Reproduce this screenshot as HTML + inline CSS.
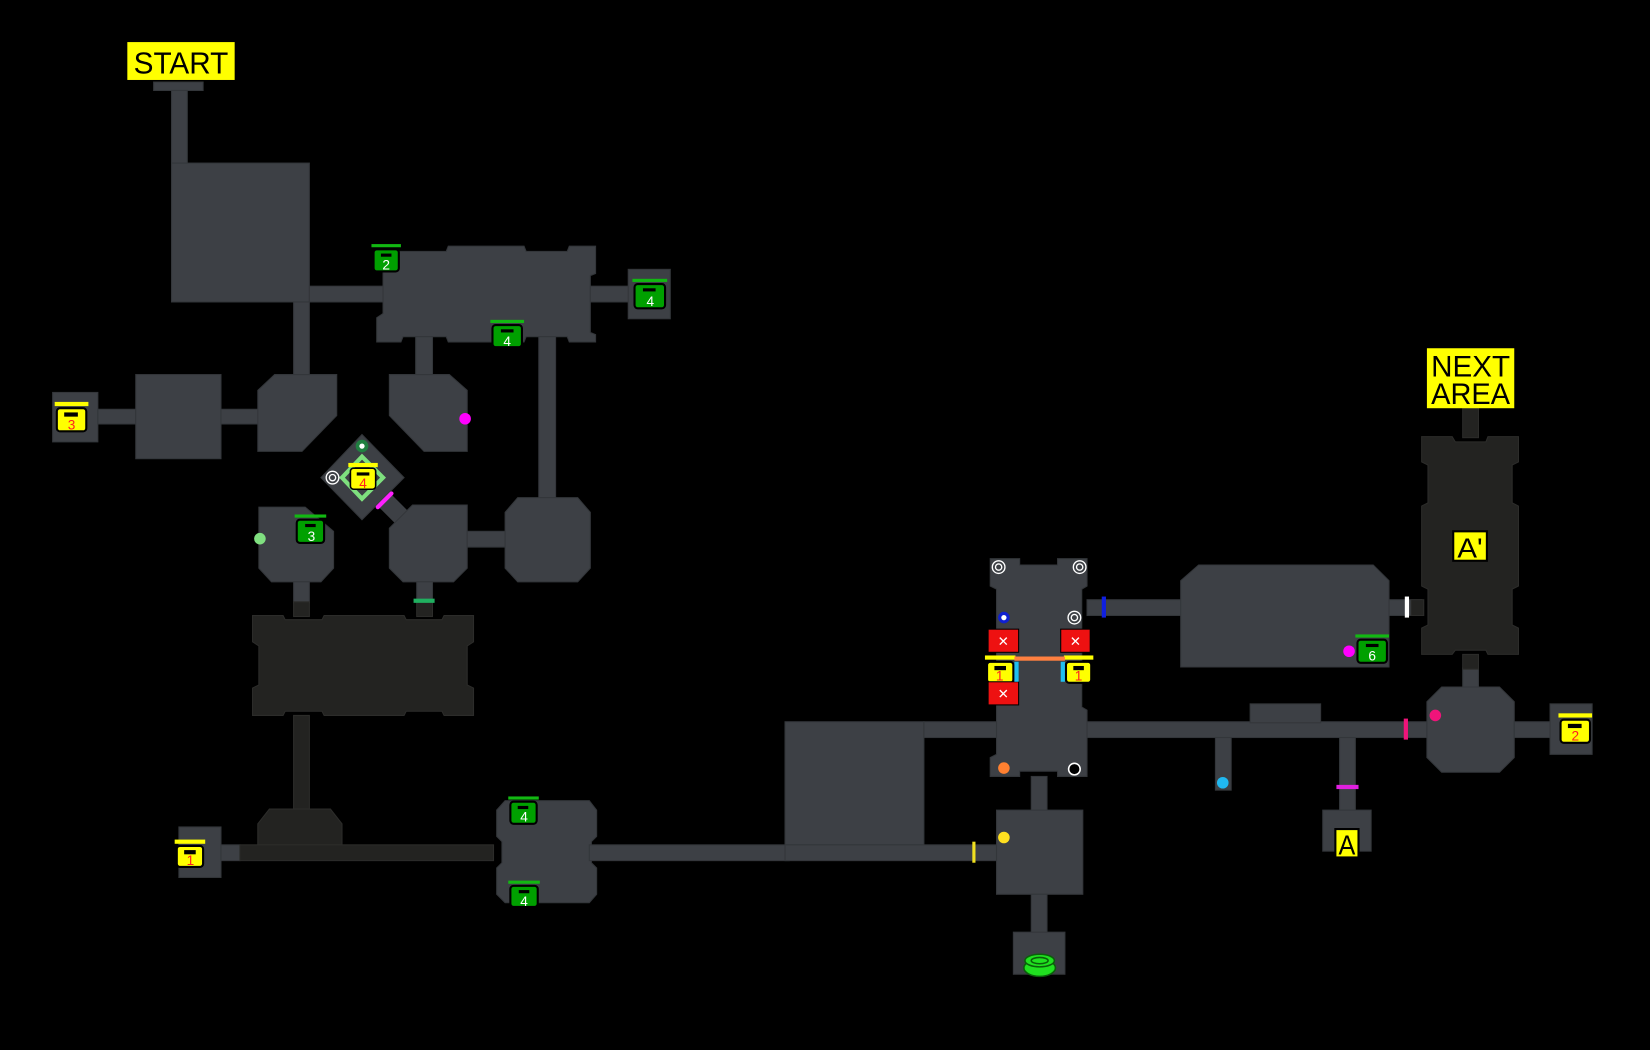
<!DOCTYPE html>
<html><head><meta charset="utf-8"><style>
html,body{margin:0;padding:0;background:#000;overflow:hidden}
svg{display:block}
text{font-family:"Liberation Sans",sans-serif}
</style></head><body>
<svg width="1650" height="1050" viewBox="0 0 1568 998" preserveAspectRatio="none" xmlns="http://www.w3.org/2000/svg">
<rect width="1568" height="998" fill="#000"/>
<g fill="#3d4045" stroke="#33363a" stroke-width="1">
<rect x="146" y="78" width="47" height="8"/>
<rect x="163" y="86" width="15" height="70"/>
<rect x="163" y="155" width="131" height="132"/>
<rect x="294" y="272" width="70" height="15"/>
<rect x="279" y="287" width="15" height="70"/>
<polygon points="364,239 424,239 426,234 498,234 500,239 539,239 541,234 566,234 566,260 561,262 561,316 566,318 566,325 541,325 539,320 500,320 498,325 426,325 424,320 383,320 381,325 358,325 358,302 364,298"/>
<rect x="561" y="272" width="37" height="15"/>
<rect x="597" y="256" width="40" height="47"/>
<rect x="395" y="320" width="16" height="37"/>
<rect x="512" y="320" width="16" height="153"/>
<rect x="50" y="373" width="43" height="47"/>
<rect x="93" y="389" width="36" height="14"/>
<rect x="129" y="356" width="81" height="80"/>
<rect x="210" y="389" width="36" height="14"/>
<polygon points="261,356 320,356 320,395 287,429 245,429 245,371"/>
<polygon points="370,356 427,356 444,371 444,429 403,429 370,395"/>
<line x1="362" y1="472" x2="398" y2="508" stroke="#3d4045" stroke-width="17"/>
<polygon points="344,413 384,454 344,494 305,454"/>
<polygon points="392,480 444,480 444,540 431,553 383,553 370,540 370,502"/>
<rect x="444" y="505" width="36" height="15"/>
<polygon points="492,473 549,473 561,487 561,540 549,553 492,553 480,540 480,487"/>
<polygon points="246,482 290,482 317,505 317,540 305,553 258,553 246,540"/>
<rect x="279" y="553" width="15" height="20"/>
<rect x="396" y="553" width="15" height="18"/>
<rect x="170" y="786" width="40" height="48"/>
<rect x="210" y="803" width="18" height="15"/>
<polygon points="480,761 560,761 567,770 567,795 562,800 562,820 567,825 567,850 560,858 480,858 472,850 472,825 477,820 477,800 472,795 472,770"/>
<rect x="560" y="803" width="190" height="15"/>
<rect x="746" y="686" width="132" height="117"/>
<rect x="746" y="803" width="202" height="15"/>
<rect x="878" y="686" width="478" height="15"/>
<polygon points="941,531 969,531 969,537 1005,537 1005,531 1033,531 1033,557 1028,560 1028,672 1033,675 1033,738 1005,738 1005,733 969,733 969,738 941,738 941,720 947,717 947,560 941,557"/>
<rect x="1033" y="570" width="90" height="15"/>
<polygon points="1139,537 1305,537 1320,552 1320,634 1122,634 1122,552"/>
<rect x="1320" y="570" width="31" height="15"/>
<rect x="980" y="738" width="15" height="33"/>
<rect x="947" y="770" width="82" height="80"/>
<rect x="980" y="850" width="15" height="37"/>
<rect x="963" y="886" width="49" height="40"/>
<rect x="1188" y="669" width="67" height="18"/>
<rect x="1155" y="701" width="15" height="50"/>
<rect x="1273" y="701" width="15" height="70"/>
<rect x="1257" y="770" width="46" height="39"/>
<rect x="1390" y="635" width="15" height="19"/>
<polygon points="1370,653 1425,653 1439,667 1439,720 1425,734 1370,734 1356,720 1356,667"/>
<rect x="1439" y="686" width="34" height="15"/>
<rect x="1473" y="669" width="40" height="48"/>
</g>
<g fill="#232321" stroke="#2c2c2a" stroke-width="1">
<rect x="279" y="572" width="15" height="14"/>
<rect x="396" y="571" width="15" height="15"/>
<polygon points="240,585 269,585 271,589 306,589 308,585 384,585 386,589 420,589 422,585 450,585 450,610 444,614 444,651 450,654 450,680 422,680 420,676 386,676 384,680 308,680 306,676 271,676 269,680 240,680 240,654 246,651 246,614 240,610"/>
<rect x="279" y="680" width="15" height="90"/>
<polygon points="245,783 256,769 314,769 325,783 325,803 245,803"/>
<rect x="228" y="803" width="241" height="15"/>
<rect x="1390" y="388" width="15" height="28"/>
<polygon points="1351,415 1380,415 1383,420 1412,420 1414,415 1443,415 1443,439 1437,442 1437,478 1443,481 1443,557 1437,560 1437,594 1443,597 1443,622 1414,622 1412,618 1383,618 1380,622 1351,622 1351,597 1357,594 1357,560 1351,557 1351,481 1357,478 1357,442 1351,439"/>
<rect x="1390" y="622" width="15" height="14"/>
<rect x="1341" y="570" width="12" height="15"/>
</g>
<rect x="121" y="40" width="102" height="36" fill="#ffff00"/>
<text x="127" y="70" font-size="29" textLength="90" lengthAdjust="spacingAndGlyphs" fill="#000">START</text>
<rect x="1356" y="331" width="83" height="57" fill="#ffff00"/>
<text x="1360" y="358" font-size="28" textLength="75" lengthAdjust="spacingAndGlyphs" fill="#000">NEXT</text>
<text x="1360" y="384" font-size="28" textLength="75" lengthAdjust="spacingAndGlyphs" fill="#000">AREA</text>
<rect x="1381" y="505" width="32" height="28" fill="#ffff00" stroke="#000" stroke-width="2"/>
<text x="1385" y="530" font-size="26" textLength="24" lengthAdjust="spacingAndGlyphs" fill="#000">A'</text>
<rect x="1269" y="788" width="22" height="27" fill="#ffff00" stroke="#000" stroke-width="2"/>
<text x="1272" y="812" font-size="26" textLength="16" lengthAdjust="spacingAndGlyphs" fill="#000">A</text>
<polygon points="344,434 364,454 344,474 325,454" fill="none" stroke="#7ee07e" stroke-width="4"/>
<g font-size="13" text-anchor="middle">
<g><rect x="353" y="232" width="28" height="3" fill="#12b812"/><rect x="355" y="237" width="24" height="21" rx="3" fill="#00a000" stroke="#000" stroke-width="2"/><rect x="362" y="241" width="10" height="3" fill="#000"/><text x="367" y="256" fill="#fff">2</text></g>
<g><rect x="601" y="265" width="33" height="3" fill="#12b812"/><rect x="603" y="270" width="29" height="23" rx="3" fill="#00a000" stroke="#000" stroke-width="2"/><rect x="611" y="274" width="12" height="3" fill="#000"/><text x="618" y="291" fill="#fff">4</text></g>
<g><rect x="466" y="304" width="32" height="3" fill="#12b812"/><rect x="468" y="309" width="28" height="21" rx="3" fill="#00a000" stroke="#000" stroke-width="2"/><rect x="476" y="313" width="12" height="3" fill="#000"/><text x="482" y="329" fill="#fff">4</text></g>
<g><rect x="280" y="489" width="30" height="3" fill="#12b812"/><rect x="282" y="494" width="26" height="22" rx="3" fill="#00a000" stroke="#000" stroke-width="2"/><rect x="290" y="498" width="10" height="3" fill="#000"/><text x="296" y="514" fill="#fff">3</text></g>
<g><rect x="483" y="757" width="29" height="3" fill="#12b812"/><rect x="485" y="762" width="25" height="21" rx="3" fill="#00a000" stroke="#000" stroke-width="2"/><rect x="492" y="766" width="10" height="3" fill="#000"/><text x="498" y="781" fill="#fff">4</text></g>
<g><rect x="483" y="837" width="30" height="3" fill="#12b812"/><rect x="485" y="842" width="26" height="20" rx="3" fill="#00a000" stroke="#000" stroke-width="2"/><rect x="493" y="846" width="10" height="3" fill="#000"/><text x="498" y="861" fill="#fff">4</text></g>
<g><rect x="1288" y="603" width="32" height="3" fill="#12b812"/><rect x="1290" y="608" width="28" height="22" rx="3" fill="#00a000" stroke="#000" stroke-width="2"/><rect x="1298" y="612" width="12" height="3" fill="#000"/><text x="1304" y="628" fill="#fff">6</text></g>
<g><rect x="52" y="382" width="32" height="4" fill="#ffff00"/><rect x="54" y="388" width="28" height="22" rx="3" fill="#ffff00" stroke="#000" stroke-width="2"/><rect x="61" y="392" width="13" height="4" fill="#000"/><text x="68" y="408" fill="#ff2020">3</text></g>
<g><rect x="166" y="798" width="29" height="4" fill="#ffff00"/><rect x="168" y="804" width="25" height="20" rx="3" fill="#ffff00" stroke="#000" stroke-width="2"/><rect x="175" y="808" width="11" height="4" fill="#000"/><text x="181" y="822" fill="#ff2020">1</text></g>
<g><rect x="936" y="623" width="29" height="4" fill="#ffff00"/><rect x="938" y="629" width="25" height="20" rx="3" fill="#ffff00" stroke="#000" stroke-width="2"/><rect x="945" y="633" width="11" height="4" fill="#000"/><text x="950" y="647" fill="#ff2020">1</text></g>
<g><rect x="1011" y="623" width="28" height="4" fill="#ffff00"/><rect x="1013" y="629" width="24" height="20" rx="3" fill="#ffff00" stroke="#000" stroke-width="2"/><rect x="1020" y="633" width="10" height="4" fill="#000"/><text x="1025" y="647" fill="#ff2020">1</text></g>
<g><rect x="1481" y="678" width="32" height="4" fill="#ffff00"/><rect x="1483" y="684" width="28" height="22" rx="3" fill="#ffff00" stroke="#000" stroke-width="2"/><rect x="1490" y="688" width="13" height="4" fill="#000"/><text x="1497" y="704" fill="#ff2020">2</text></g>
<g><rect x="331" y="440" width="28" height="4" fill="#ffff00"/><rect x="333" y="445" width="24" height="20" rx="3" fill="#ffff00" stroke="#000" stroke-width="1.5"/><rect x="339" y="449" width="12" height="3" fill="#000"/><text x="345" y="464" fill="#ff2020">4</text></g>
</g>
<g>
<rect x="939" y="598" width="29" height="22" fill="#ee1111" stroke="#000"/><text x="953.5" y="614" font-size="13" text-anchor="middle" fill="#fff">✕</text>
<rect x="1008" y="598" width="28" height="22" fill="#ee1111" stroke="#000"/><text x="1022" y="614" font-size="13" text-anchor="middle" fill="#fff">✕</text>
<rect x="939" y="648" width="29" height="22" fill="#ee1111" stroke="#000"/><text x="953.5" y="664" font-size="13" text-anchor="middle" fill="#fff">✕</text>
</g>
<rect x="964" y="624" width="48" height="4" fill="#ff8040"/>
<rect x="964" y="629" width="4" height="19" fill="#20c0f0"/>
<rect x="1008" y="629" width="4" height="19" fill="#20c0f0"/>
<rect x="1047" y="567" width="4" height="20" fill="#1020e0"/>
<rect x="1335" y="567" width="4" height="20" fill="#fff"/>
<rect x="1334" y="683" width="4" height="20" fill="#f0147a"/>
<rect x="1270" y="746" width="21" height="4" fill="#e020e0"/>
<rect x="924" y="800" width="3" height="20" fill="#f0e020"/>
<rect x="393" y="569" width="20" height="4" fill="#20b060"/>
<line x1="359" y1="482" x2="372" y2="469" stroke="#ff20ff" stroke-width="4" stroke-linecap="round"/>
<circle cx="442" cy="398" r="5.5" fill="#ff00ff"/>
<circle cx="247" cy="512" r="5.5" fill="#80e080"/>
<circle cx="1282" cy="619" r="5.5" fill="#ff00ff"/>
<circle cx="1364" cy="680" r="5.5" fill="#f0147a"/>
<circle cx="1162" cy="744" r="5.5" fill="#20b8f0"/>
<circle cx="954" cy="730" r="5.5" fill="#ff8030"/>
<circle cx="1021" cy="731" r="5.5" fill="#000" stroke="#fff" stroke-width="1.5"/>
<circle cx="954" cy="796" r="5.5" fill="#ffe020"/>
<circle cx="954" cy="587" r="5.5" fill="#1020d0"/><circle cx="954" cy="587" r="2.5" fill="#fff"/>
<circle cx="344" cy="424" r="6" fill="#208040"/><circle cx="344" cy="424" r="2.5" fill="#fff"/>
<g fill="none" stroke="#fff" stroke-width="1.3">
<circle cx="316" cy="454" r="6"/><circle cx="316" cy="454" r="3"/>
<circle cx="949" cy="539" r="6"/><circle cx="949" cy="539" r="3"/>
<circle cx="1026" cy="539" r="6"/><circle cx="1026" cy="539" r="3"/>
<circle cx="1021" cy="587" r="6"/><circle cx="1021" cy="587" r="3"/>
</g>
<ellipse cx="988" cy="920" rx="15" ry="8" fill="#20e020" stroke="#0a600a" stroke-width="1.5"/>
<ellipse cx="988" cy="913" rx="14" ry="6" fill="#20e020" stroke="#0a600a" stroke-width="1.5"/>
<ellipse cx="988" cy="913" rx="8" ry="3" fill="none" stroke="#0a600a" stroke-width="1.5"/>
</svg>
</body></html>
